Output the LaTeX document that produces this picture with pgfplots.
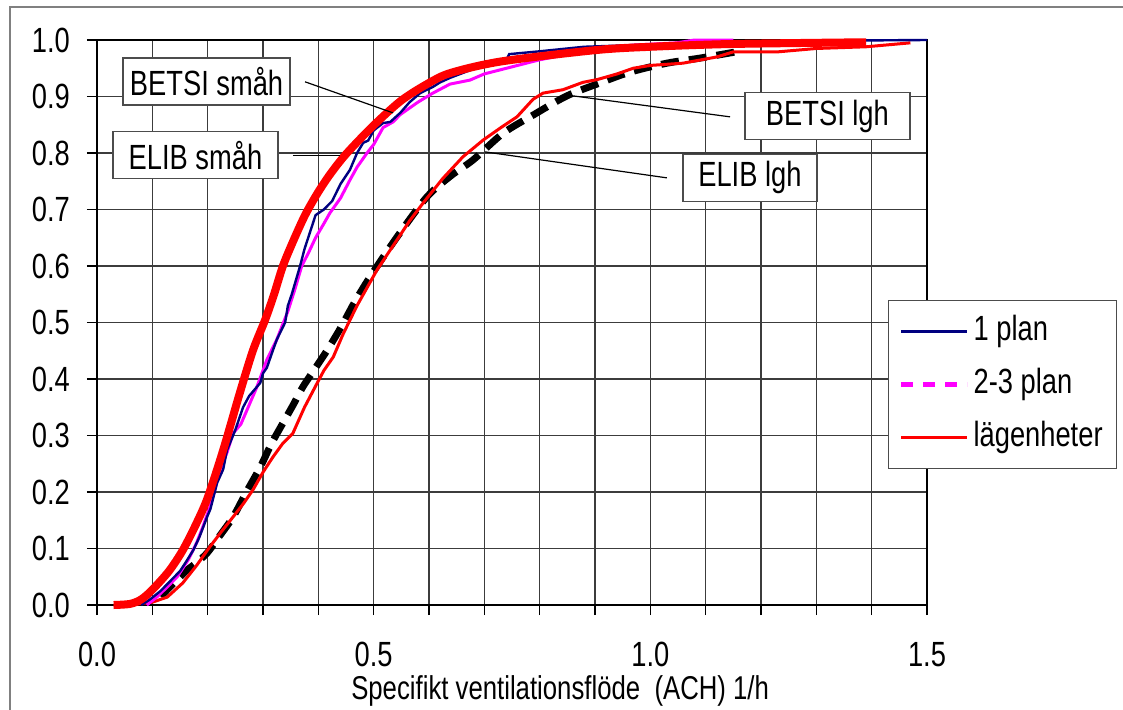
\documentclass[border=0pt]{standalone}
\usepackage{fontspec}
\setmainfont{Liberation Sans}[FakeStretch=0.78]
\usepackage{pgfplots}
\pgfplotsset{compat=1.18}
\definecolor{navyline}{RGB}{0,0,128}
\definecolor{gridgray}{RGB}{60,60,60}
\definecolor{pink}{RGB}{255,0,255}
\newcommand{\fs}{\fontsize{17.5}{21}\selectfont}

\begin{document}
\begin{tikzpicture}
\useasboundingbox (-48.5pt,-52pt) rectangle (513pt,302.5pt);
\fill[white] (-48.5pt,-52pt) rectangle (513pt,302.5pt);
\draw[gray, line width=0.8pt] (-43.5pt,-60pt) -- (-43.5pt,299pt) -- (520pt,299pt);
\begin{axis}[
  scale only axis, width=415pt, height=282.5pt,
  xmin=0, xmax=1.5, ymin=0, ymax=1,
  xtick={0,0.5,1,1.5},
  minor xtick={0.1,0.2,0.3,0.4,0.6,0.7,0.8,0.9,1.1,1.2,1.3,1.4},
  ytick={0,0.1,...,1},
  grid=both,
  major grid style={gridgray, line width=0.7pt},
  minor grid style={gridgray, line width=0.7pt},
  tick align=outside, major tick length=5pt, minor tick length=5pt,
  tick style={black, line width=0.7pt},
  xtick pos=lower, ytick pos=left,
  axis line style={black, line width=1pt},
  ticklabel style={font=\fs},
  /pgf/number format/assume math mode=true,
  /pgf/number format/fixed, /pgf/number format/fixed zerofill,
  /pgf/number format/precision=1,
  xticklabel style={yshift=-10pt},
  yticklabel style={xshift=-5pt},
  xlabel={Specifikt ventilationsflöde\ \ (ACH) 1/h},
  xlabel style={font=\fontsize{16.5}{20}\selectfont, at={(axis description cs:0.558,0)}, anchor=base, yshift=-47pt},
  clip=false,
  legend cell align=left,
  legend style={at={(axis description cs:0.953,0.54)}, anchor=north west,
    font=\fs, draw=black!70, line width=0.6pt, fill=white,
    row sep=5.5pt, inner xsep=5pt, inner ysep=5pt,
    nodes={text height=13pt, text depth=4pt}},
  legend image code/.code={\draw[#1] (0pt,0pt) -- (33pt,0pt);},
]
\addlegendimage{navyline, line width=1.2pt}
\addlegendimage{pink, line width=2.5pt, dash pattern=on 6pt off 5pt}
\addlegendimage{red, line width=1.5pt}

% ELIB lgh
\addplot[black, line width=3.5pt, dash pattern=on 9pt off 5pt, smooth, tension=0.5, forget plot] coordinates {
(0.115,0.015) (0.127,0.027) (0.145,0.045) (0.163,0.062) (0.18,0.075) (0.199,0.092)
(0.22,0.12) (0.246,0.156) (0.27,0.2) (0.295,0.244) (0.315,0.285) (0.336,0.322)
(0.355,0.355) (0.372,0.386) (0.395,0.42) (0.416,0.451) (0.44,0.49) (0.465,0.535)
(0.493,0.58) (0.542,0.651) (0.596,0.722) (0.64,0.76) (0.68,0.788) (0.734,0.835)
(0.788,0.867) (0.849,0.901) (0.909,0.924) (0.963,0.943) (1.03,0.959) (1.09,0.968)
(1.155,0.979)};

% lägenheter (BETSI lgh)
\addplot[red, line width=1.5pt, forget plot] coordinates {
(0.03,0) (0.06,0) (0.10,0.005) (0.127,0.014) (0.155,0.039) (0.18,0.07) (0.204,0.103)
(0.225,0.13) (0.246,0.156) (0.265,0.18) (0.282,0.204) (0.30,0.235) (0.318,0.262)
(0.335,0.285) (0.354,0.304) (0.375,0.35) (0.398,0.393) (0.41,0.415) (0.427,0.439)
(0.445,0.48) (0.47,0.53) (0.506,0.593) (0.542,0.646) (0.565,0.68) (0.589,0.711)
(0.625,0.755) (0.661,0.793) (0.698,0.823) (0.73,0.845) (0.759,0.864) (0.788,0.895)
(0.806,0.906) (0.842,0.912) (0.878,0.925) (0.904,0.93) (0.94,0.94) (0.969,0.95)
(1.0,0.955) (1.059,0.959) (1.12,0.97) (1.15,0.979) (1.23,0.979) (1.3,0.985)
(1.39,0.988) (1.47,0.995)};

% 2-3 plan
\addplot[pink, line width=1.5pt, forget plot] coordinates {
(0.09,0) (0.108,0.014) (0.125,0.03) (0.145,0.05) (0.165,0.08) (0.18,0.11) (0.19,0.135)
(0.204,0.173) (0.212,0.2) (0.222,0.239) (0.235,0.27) (0.246,0.304) (0.26,0.32)
(0.271,0.345) (0.289,0.386) (0.298,0.41) (0.307,0.434) (0.325,0.47) (0.345,0.52)
(0.358,0.56) (0.37,0.6) (0.383,0.625) (0.395,0.65) (0.41,0.675) (0.421,0.694)
(0.44,0.72) (0.457,0.752) (0.47,0.775) (0.488,0.8) (0.5,0.815) (0.517,0.845)
(0.535,0.855) (0.548,0.868) (0.58,0.89) (0.607,0.906) (0.638,0.922) (0.674,0.929)
(0.7,0.94) (0.728,0.947) (0.8,0.965) (0.88,0.98) (0.969,0.991) (1.048,0.995)
(1.08,1.0) (1.15,1.0)};

% 1 plan
\addplot[navyline, line width=1.2pt, forget plot] coordinates {
(0.08,0) (0.096,0.01) (0.115,0.025) (0.13,0.04) (0.15,0.06) (0.16,0.075) (0.174,0.097)
(0.185,0.12) (0.199,0.156) (0.205,0.17) (0.217,0.216) (0.228,0.24) (0.235,0.274)
(0.25,0.31) (0.264,0.35) (0.275,0.37) (0.295,0.393) (0.3,0.41) (0.307,0.42)
(0.318,0.451) (0.325,0.47) (0.34,0.5) (0.345,0.53) (0.352,0.55) (0.367,0.6)
(0.375,0.63) (0.385,0.66) (0.395,0.69) (0.41,0.7) (0.425,0.715) (0.44,0.745)
(0.457,0.77) (0.47,0.8) (0.481,0.818) (0.49,0.822) (0.5,0.84) (0.517,0.853)
(0.53,0.855) (0.548,0.871) (0.565,0.89) (0.584,0.906) (0.607,0.917) (0.62,0.925)
(0.638,0.933) (0.67,0.945) (0.7,0.955) (0.74,0.965) (0.745,0.975) (0.8,0.98)
(0.88,0.988) (1.0,0.992) (1.2,0.996) (1.35,0.999) (1.5,1.0)};

% ELIB småh
\addplot[red, line width=4pt, smooth, tension=0.5, forget plot] coordinates {
(0.03,0) (0.06,0.002) (0.08,0.01) (0.10,0.027) (0.13,0.06) (0.155,0.097) (0.18,0.145)
(0.20,0.19) (0.228,0.274) (0.258,0.375) (0.282,0.451) (0.304,0.505) (0.32,0.55)
(0.336,0.6) (0.355,0.645) (0.376,0.69) (0.398,0.728) (0.421,0.762) (0.45,0.798)
(0.499,0.848) (0.55,0.893) (0.6,0.924) (0.64,0.942) (0.73,0.962) (0.9,0.982)
(1.0,0.988) (1.15,0.993) (1.39,0.996)};

\legend{1 plan, 2-3 plan, lägenheter}

% annotations
\draw[black, line width=0.6pt] (axis cs:0.376,0.926) -- (axis cs:0.535,0.871);
\draw[black, line width=0.6pt] (axis cs:0.354,0.796) -- (axis cs:0.439,0.796);
\draw[black, line width=0.6pt] (axis cs:0.846,0.903) -- (axis cs:1.144,0.864);
\draw[black, line width=0.6pt] (axis cs:0.701,0.802) -- (axis cs:1.03,0.756);
\tikzset{lbl/.style={draw=black!70, line width=0.6pt, fill=white, font=\fs,
  minimum height=23.5pt, inner sep=1pt}}
\node[lbl, minimum width=83.5pt] at (axis cs:0.198,0.9265) {BETSI småh};
\node[lbl, minimum width=82.5pt] at (axis cs:0.178,0.796) {ELIB småh};
\node[lbl, minimum width=82.5pt] at (axis cs:1.320,0.865) {BETSI lgh};
\node[lbl, minimum width=67pt] at (axis cs:1.180,0.756) {ELIB lgh};
\end{axis}
\end{tikzpicture}
\end{document}
